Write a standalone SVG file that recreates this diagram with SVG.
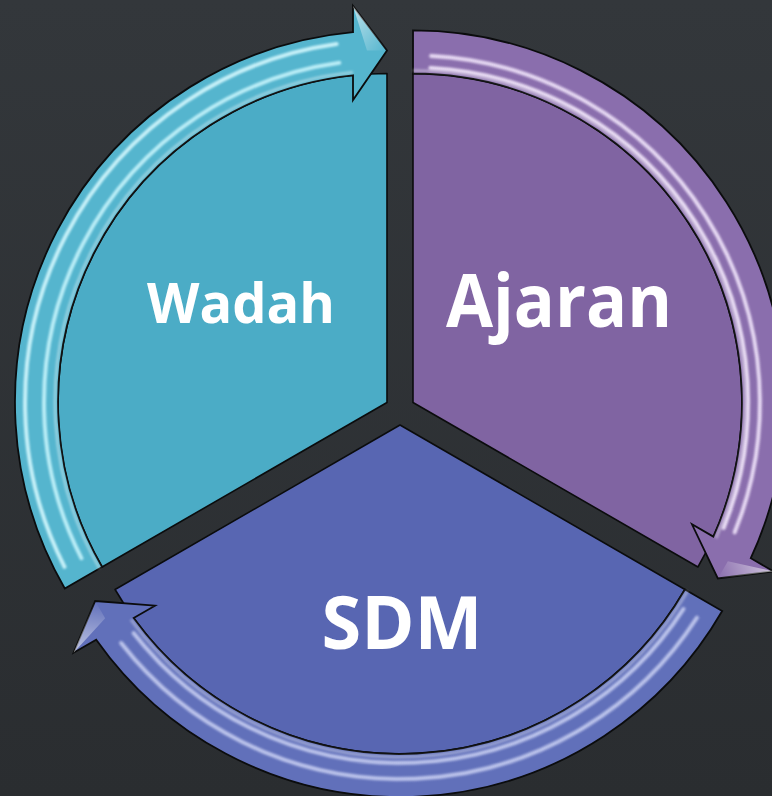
<svg xmlns="http://www.w3.org/2000/svg" xmlns:xlink="http://www.w3.org/1999/xlink" width="772" height="796" viewBox="0 0 772 796">
  <defs>
    <linearGradient id="bg" x1="0" y1="0" x2="0" y2="1">
      <stop offset="0" stop-color="#33373b"/>
      <stop offset="1" stop-color="#2a2d30"/>
    </linearGradient>
    <linearGradient id="headGloss" x1="0" y1="0" x2="1" y2="1">
      <stop offset="0" stop-color="#ffffff" stop-opacity="0.6"/>
      <stop offset="1" stop-color="#ffffff" stop-opacity="0"/>
    </linearGradient>
    <filter id="soft" x="-5%" y="-5%" width="110%" height="110%">
      <feGaussianBlur stdDeviation="1"/>
    </filter>
    <!-- local frame: sector apex at origin, sector spans 150deg..270deg -->
    <path id="sectorShape" d="M0,0 L-284.9,164.5 A329,329 0 0 1 0,-329 Z"/>
    <path id="arrowShape" d="M-322.2,186 A372,372 0 0 1 -34,-370.4 L-34,-396.5 L0,-352 L-34,-302.5 L-34,-327.2 A329,329 0 0 0 -284.9,164.5 Z"/>
    <path id="headFacet" d="M-34,-396.5 L0,-352 L-20,-352 Z"/>
    <path id="innerGlow" d="M-287.5,166 A332,332 0 0 1 -34,-330.3"/>
    <path id="streak343" d="M-305.6,155.7 A343,343 0 0 1 -47.7,-339.7"/>
    <path id="streak362" d="M-322.5,164.3 A362,362 0 0 1 -50.4,-358.5"/>
    <path id="streak335" d="M-298.5,152.1 A335,335 0 0 1 -46.6,-331.8"/>
    <path id="streak347" d="M-309.2,157.5 A347,347 0 0 1 -48.3,-343.6"/>
    <path id="streak338" d="M-301.1,153.4 A338,338 0 0 1 -47.0,-334.7"/>
    <path id="streak354" d="M-315.4,160.7 A354,354 0 0 1 -49.3,-350.6"/>
  </defs>
  <style>
    .sector { stroke: #0b0c0d; stroke-width: 1.6; stroke-linejoin: round; }
    .arrow { stroke: #0b0c0d; stroke-width: 1.8; stroke-linejoin: miter; }
    .streak { fill: none; stroke-width: 4; stroke-linecap: round; filter: url(#soft); }
    .glow { fill: none; stroke: #ffffff; stroke-width: 3; opacity: 0.35; filter: url(#soft); }
    .edge { fill: none; stroke-linecap: round; filter: url(#soft); }
    .label { font-family: "Open Sans", "Liberation Sans", sans-serif; font-weight: bold; fill: #ffffff; text-anchor: middle; }
  </style>

  <rect x="0" y="0" width="772" height="796" fill="url(#bg)"/>

  <g id="node-wadah">
    <g transform="translate(387,402.5)">
      <use xlink:href="#sectorShape" class="sector" fill="#4BACC6"/>
      <use xlink:href="#arrowShape" class="arrow" fill="#55B5CE"/>
      <use xlink:href="#innerGlow" class="glow"/>
      <use xlink:href="#streak343" class="streak" stroke="#c4f3fb" opacity="0.9"/>
      <use xlink:href="#streak362" class="streak" stroke="#d2f7fd" opacity="0.9"/>
      <use xlink:href="#headFacet" fill="url(#headGloss)"/>
    </g>
    <line class="edge" x1="376" y1="82" x2="376" y2="388" stroke="#a9e9f7" stroke-width="3" opacity="0.75"/>
    <line class="edge" x1="383" y1="82" x2="383" y2="392" stroke="#c8f4fb" stroke-width="2" opacity="0.75"/>
    <text class="label" x="241" y="323" font-size="56" textLength="188" lengthAdjust="spacingAndGlyphs">Wadah</text>
  </g>

  <g id="node-ajaran">
    <g transform="rotate(120,400,410) translate(387,402.5)">
      <use xlink:href="#sectorShape" class="sector" fill="#8064A2"/>
      <use xlink:href="#arrowShape" class="arrow" fill="#8A6EAD"/>
      <use xlink:href="#innerGlow" class="glow"/>
      <use xlink:href="#streak335" class="streak" stroke="#f4eafc" opacity="0.9"/>
      <use xlink:href="#streak347" class="streak" stroke="#f1e5fb" opacity="0.9"/>
      <use xlink:href="#headFacet" fill="url(#headGloss)"/>
    </g>
    <line class="edge" x1="419" y1="80" x2="419" y2="392" stroke="#e3cff5" stroke-width="3" opacity="0.65"/>
    <line class="edge" x1="425" y1="84" x2="425" y2="388" stroke="#b9a0d6" stroke-width="2" opacity="0.6"/>
    <text class="label" x="559" y="327" font-size="74" textLength="226" lengthAdjust="spacingAndGlyphs">Ajaran</text>
  </g>

  <g id="node-sdm">
    <g transform="rotate(240,400,410) translate(387,402.5)">
      <use xlink:href="#sectorShape" class="sector" fill="#5866B2"/>
      <use xlink:href="#arrowShape" class="arrow" fill="#6170BA"/>
      <use xlink:href="#innerGlow" class="glow"/>
      <use xlink:href="#streak338" class="streak" stroke="#d3d9f8" opacity="0.8"/>
      <use xlink:href="#streak354" class="streak" stroke="#d3d9f8" opacity="0.8"/>
      <use xlink:href="#headFacet" fill="url(#headGloss)"/>
    </g>
    <text class="label" x="402" y="649" font-size="74" textLength="161" lengthAdjust="spacingAndGlyphs">SDM</text>
  </g>

  <g id="connectors"/>
</svg>
